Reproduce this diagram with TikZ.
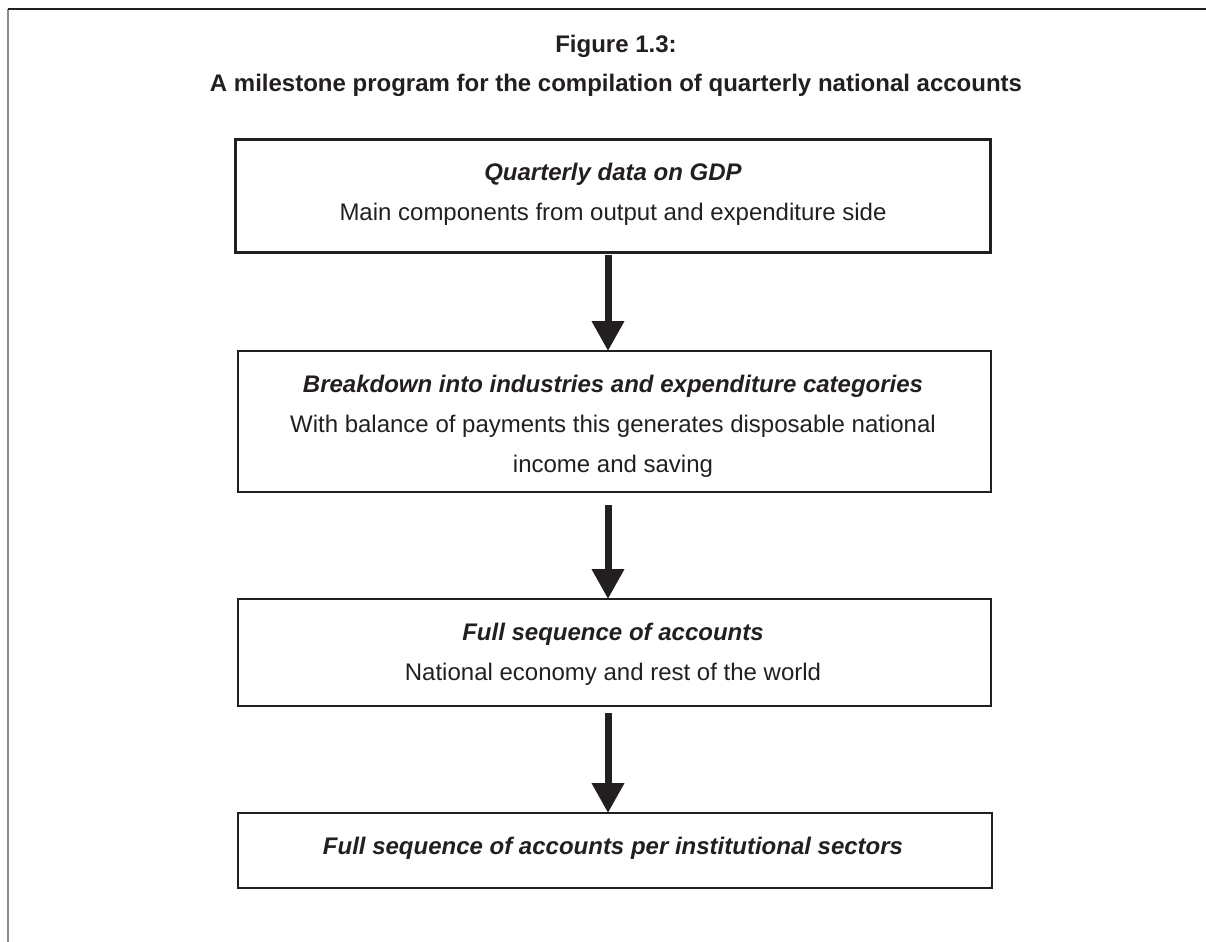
\documentclass[tikz,border=0pt]{standalone}
\usepackage{fontspec}
\setmainfont{Liberation Sans}
\usetikzlibrary{arrows.meta}
\definecolor{ink}{HTML}{231F20}
\definecolor{rule}{HTML}{8A8A8A}
\begin{document}
\begin{tikzpicture}[x=0.5pt,y=-0.5pt,
  stepbox/.style={draw=ink,line width=1pt,inner sep=0pt},
  label/.style={anchor=base,inner sep=0pt,text=ink,font=\fontsize{12}{14}\selectfont},
  head/.style={label,font=\fontsize{12}{14}\selectfont\bfseries\itshape},
  title/.style={label,font=\fontsize{12}{14}\selectfont\bfseries},
  flow/.style={draw=ink,line width=3.5pt,-{Triangle[width=15.5pt,length=15pt]}}]
\useasboundingbox (0,0) rectangle (1206,942);
% frame
\draw[rule,line width=1pt] (8,9) -- (8,942);
\draw[ink,line width=1pt] (8,9) -- (1206,9);
% heading
\node[title] (fig) at (616,53) {Figure 1.3:};
\node[title] (ttl) at (616,91) {A milestone program for the compilation of quarterly national accounts};
% boxes
\node[stepbox,line width=1.5pt,minimum width=377.5pt,minimum height=56.5pt] (b1) at (612.5,195.5) {};
\node[stepbox,minimum width=376.5pt,minimum height=70.5pt] (b2) at (614.5,421.5) {};
\node[stepbox,minimum width=376.5pt,minimum height=53.5pt] (b3) at (614.5,652.5) {};
\node[stepbox,minimum width=377pt,minimum height=37.5pt] (b4) at (615,850.5) {};
% texts
\node[head] (h1) at (613,180) {Quarterly data on GDP};
\node[label] (t1) at (613,220) {Main components from output and expenditure side};
\node[head] (h2) at (613,392) {Breakdown into industries and expenditure categories};
\node[label] (t2a) at (613,432) {With balance of payments this generates disposable national};
\node[label] (t2b) at (613,472) {income and saving};
\node[head] (h3) at (613,640) {Full sequence of accounts};
\node[label] (t3) at (613,680) {National economy and rest of the world};
\node[head] (h4) at (613,854) {Full sequence of accounts per institutional sectors};
% arrows
\coordinate (a1s) at (608,255); \coordinate (a1e) at (608,351);
\coordinate (a2s) at (608,505); \coordinate (a2e) at (608,599);
\coordinate (a3s) at (608,713); \coordinate (a3e) at (608,813);
\draw[flow] (a1s) -- (a1e);
\draw[flow] (a2s) -- (a2e);
\draw[flow] (a3s) -- (a3e);
\end{tikzpicture}
\end{document}
